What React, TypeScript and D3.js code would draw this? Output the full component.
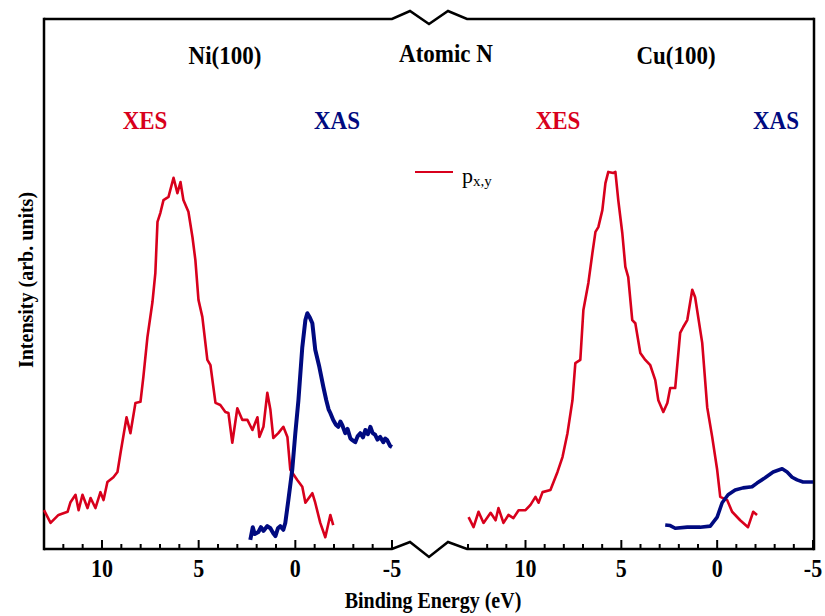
import React from "react";
import * as d3 from "d3";

// ---- data: [binding energy (eV), intensity (arb. units)] ----
const niXES: [number, number][] = [
  [13.0, 7.5], [12.66, 5.1], [12.25, 6.6], [11.78, 7.2], [11.63, 9.0], [11.37, 10.4], [11.21, 7.5],
  [11.01, 10.4], [10.75, 7.9], [10.59, 9.8], [10.34, 7.9], [10.08, 10.9], [9.92, 9.4], [9.72, 12.8],
  [9.41, 13.7], [9.2, 14.7], [9.04, 18.3], [8.73, 25.0], [8.53, 22.0], [8.27, 27.7], [8.01, 27.9],
  [7.86, 32.6], [7.65, 40.1], [7.39, 46.7], [7.24, 52.2], [7.13, 61.8], [6.98, 63.5], [6.82, 65.9],
  [6.56, 66.5], [6.3, 70.1], [6.1, 67.2], [5.94, 69.3], [5.79, 65.9], [5.53, 63.7], [5.32, 58.9],
  [5.17, 54.6], [5.01, 47.1], [4.81, 43.9], [4.55, 35.8], [4.39, 34.8], [4.13, 27.7], [3.88, 27.3],
  [3.62, 26.0], [3.46, 25.8], [3.26, 20.2], [3.0, 26.7], [2.74, 24.5], [2.48, 24.5], [2.22, 22.6],
  [1.96, 25.0], [1.86, 21.3], [1.65, 23.2], [1.45, 29.6], [1.29, 26.4], [1.14, 21.1], [0.88, 22.0],
  [0.62, 23.2], [0.41, 21.3], [0.26, 15.1], [-0.1, 13.2], [-0.36, 11.9], [-0.52, 8.9], [-0.88, 10.7],
  [-1.03, 8.9], [-1.29, 5.1], [-1.55, 2.4], [-1.81, 6.6], [-1.96, 4.7],
];

const niXAS: [number, number][] = [
  [2.33, 1.9], [2.2, 4.3], [2.1, 3.0], [1.91, 3.4], [1.78, 4.3], [1.65, 3.6], [1.45, 4.5], [1.29, 4.1],
  [1.15, 3.2], [1.03, 2.6], [0.9, 4.1], [0.78, 4.5], [0.62, 3.8], [0.52, 5.1], [0.36, 9.4], [0.16, 15.1],
  [0.0, 22.0], [-0.16, 28.2], [-0.36, 38.2], [-0.52, 43.3], [-0.62, 44.6], [-0.75, 43.8], [-0.88, 42.7],
  [-1.03, 37.7], [-1.24, 34.5], [-1.45, 30.7], [-1.6, 28.2], [-1.72, 26.5], [-1.81, 25.8], [-1.96, 24.5],
  [-2.1, 23.6], [-2.22, 23.2], [-2.33, 24.2], [-2.43, 23.5], [-2.58, 22.0], [-2.7, 22.8], [-2.85, 21.0],
  [-2.95, 20.7], [-3.1, 20.3], [-3.22, 21.4], [-3.36, 22.0], [-3.5, 21.2], [-3.62, 22.6], [-3.75, 21.8],
  [-3.88, 23.2], [-4.0, 22.0], [-4.13, 21.7], [-4.25, 20.8], [-4.39, 21.3], [-4.55, 20.3], [-4.65, 21.0],
  [-4.75, 20.7], [-4.9, 19.6], [-5.0, 19.4],
];

const cuXES: [number, number][] = [
  [12.97, 6.2], [12.71, 4.3], [12.45, 7.2], [12.19, 5.1], [11.82, 7.0], [11.56, 5.6], [11.41, 7.9],
  [11.15, 5.1], [10.89, 6.6], [10.63, 6.0], [10.36, 7.5], [10.0, 7.5], [9.74, 8.5], [9.48, 10.0],
  [9.32, 8.9], [9.11, 10.9], [8.7, 11.3], [8.33, 14.7], [8.07, 17.5], [7.81, 22.0], [7.55, 28.2],
  [7.4, 35.2], [7.14, 35.8], [6.98, 45.2], [6.72, 50.3], [6.51, 55.9], [6.35, 59.9], [6.2, 60.8],
  [5.99, 64.0], [5.83, 69.1], [5.68, 71.2], [5.42, 71.0], [5.31, 71.2], [5.16, 65.9], [4.95, 59.7],
  [4.79, 53.3], [4.64, 51.4], [4.43, 43.3], [4.27, 42.7], [4.01, 37.1], [3.75, 35.8], [3.49, 34.8],
  [3.23, 32.0], [3.07, 28.2], [2.81, 26.0], [2.6, 27.7], [2.45, 30.5], [2.19, 30.5], [1.93, 40.9],
  [1.77, 42.0], [1.56, 43.3], [1.3, 49.0], [1.15, 47.6], [0.78, 39.0], [0.52, 26.9], [0.26, 21.3],
  [0.0, 15.1], [-0.16, 10.0], [-0.52, 9.4], [-0.78, 7.2], [-1.2, 5.6], [-1.61, 4.3], [-1.88, 7.2],
  [-2.08, 6.6],
];

const cuXAS: [number, number][] = [
  [2.71, 4.7], [2.45, 4.6], [2.19, 4.1], [1.56, 4.3], [0.89, 4.3], [0.36, 4.5], [0.0, 6.2], [-0.26, 8.9],
  [-0.57, 10.4], [-0.94, 11.3], [-1.35, 11.7], [-1.82, 11.9], [-2.08, 12.6], [-2.5, 13.6], [-2.92, 14.7],
  [-3.39, 15.3], [-3.65, 14.7], [-3.91, 13.7], [-4.17, 13.2], [-4.48, 12.8], [-5.0, 12.8],
];

const tickLabels = ["10", "5", "0", "-5"];
const tickValues = [10, 5, 0, -5];

const RED = "#d8001c";
const NAVY = "#000a80";
const FONT = "'Liberation Serif', 'Times New Roman', serif";

export default function App() {
  const W = 825;
  const H = 616;
  const left = 44, right = 814, top = 19, bottom = 549;
  const bL = 392, bR = 467; // break region

  const xL = d3.scaleLinear().domain([13, -5]).range([left, bL]);
  const xR = d3.scaleLinear().domain([13, -5]).range([bR + 1, 813]);
  const y = d3.scaleLinear().domain([0, 100]).range([550, 19]);

  const lineL = d3.line<[number, number]>().x((d) => xL(d[0])).y((d) => y(d[1]));
  const lineR = d3.line<[number, number]>().x((d) => xR(d[0])).y((d) => y(d[1]));

  const zig = (yy: number, up: number, down: number) =>
    `M${left},${yy} L${bL},${yy} L410,${yy - up} L429,${yy + down} L448,${yy - up} L${bR},${yy} L${right},${yy}`;

  const ticks = d3.range(-5, 14);

  const renderTicks = (sc: d3.ScaleLinear<number, number>, key: string) =>
    ticks.map((t) => {
      const major = t % 5 === 0;
      const xx = sc(t);
      return (
        <line key={key + t} x1={xx} x2={xx} y1={bottom} y2={bottom - (major ? 9 : 5)} stroke="#000" strokeWidth={2} />
      );
    });

  const T = (x: number, yy: number, sy: number, children: React.ReactNode, props: any = {}) => (
    <text transform={`translate(${x},${yy}) scale(1,${sy})`} {...props}>
      {children}
    </text>
  );

  const renderLabels = (sc: d3.ScaleLinear<number, number>, key: string) =>
    tickValues.map((t, i) => (
      <g key={key + t}>
        {T(sc(t), 577, 1.15, tickLabels[i], {
          textAnchor: "middle",
          fontFamily: FONT,
          fontWeight: "bold",
          fontSize: 22,
        })}
      </g>
    ));

  return (
    <svg width={W} height={H} style={{ position: "absolute", left: 0, top: 0, background: "#fff" }}>
      <rect x={0} y={0} width={W} height={H} fill="#fff" />
      {/* frame */}
      <path d={zig(top, 8, 5)} fill="none" stroke="#000" strokeWidth={2.5} strokeLinejoin="miter" />
      <path d={zig(bottom, 7, 8)} fill="none" stroke="#000" strokeWidth={2.5} strokeLinejoin="miter" />
      <line x1={left} x2={left} y1={top - 1.2} y2={bottom + 1.2} stroke="#000" strokeWidth={2.5} />
      <line x1={right} x2={right} y1={top - 1.2} y2={bottom + 1.2} stroke="#000" strokeWidth={2.5} />
      {renderTicks(xL, "tl")}
      {renderTicks(xR, "tr")}
      {renderLabels(xL, "ll")}
      {renderLabels(xR, "lr")}

      {/* curves */}
      <path d={lineL(niXES) || ""} fill="none" stroke={RED} strokeWidth={2.6} strokeLinejoin="round" />
      <path d={lineL(niXAS) || ""} fill="none" stroke={NAVY} strokeWidth={4} strokeLinejoin="round" />
      <path d={lineR(cuXES) || ""} fill="none" stroke={RED} strokeWidth={2.6} strokeLinejoin="round" />
      <path d={lineR(cuXAS) || ""} fill="none" stroke={NAVY} strokeWidth={3.6} strokeLinejoin="round" />

      {/* titles */}
      <g fontFamily={FONT} fontWeight="bold" fontSize={23} textAnchor="middle">
        {T(225, 64, 1.12, "Ni(100)")}
        {T(446, 62, 1.12, "Atomic N")}
        {T(676, 64, 1.12, "Cu(100)")}
        {T(145, 129, 1.12, "XES", { fill: RED })}
        {T(337, 129, 1.12, "XAS", { fill: NAVY })}
        {T(558, 129, 1.12, "XES", { fill: RED })}
        {T(776, 129, 1.12, "XAS", { fill: NAVY })}
      </g>

      {/* legend */}
      <line x1={415} x2={453} y1={172} y2={172} stroke={RED} strokeWidth={2} />
      <text x={462} y={183} fontFamily={FONT} fontSize={22}>
        p<tspan fontSize={15} dy={3}>x,y</tspan>
      </text>

      {/* axis titles */}
      {T(433, 608, 1.2, "Binding Energy (eV)", {
        textAnchor: "middle",
        fontFamily: FONT,
        fontWeight: "bold",
        fontSize: 20,
      })}
      <text
        transform="translate(33,280) rotate(-90) scale(1,1.1)"
        textAnchor="middle"
        fontFamily={FONT}
        fontWeight="bold"
        fontSize={20}
      >
        Intensity (arb. units)
      </text>
    </svg>
  );
}
